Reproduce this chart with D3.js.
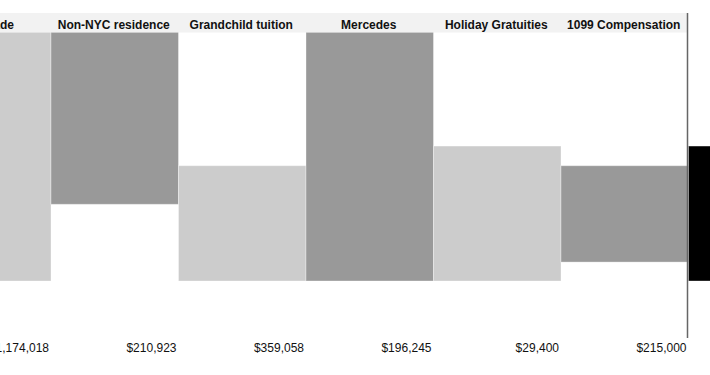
<!DOCTYPE html>
<html>
<head>
<meta charset="utf-8">
<script src="https://cdn.jsdelivr.net/npm/d3@7"></script>
<style>
  html, body { margin: 0; padding: 0; background: #fff; overflow: hidden; }
  svg { display: block; font-family: "Liberation Sans", Arial, Helvetica, sans-serif; }
</style>
</head>
<body>
<svg id="chart"></svg>
<script>
// Columns of the waterfall (first one is scrolled off to the left)
const categories = ["Car Trade", "Non-NYC residence", "Grandchild tuition", "Mercedes", "Holiday Gratuities", "1099 Compensation", "Total"];
const valueLabels = ["$1,174,018", "$210,923", "$359,058", "$196,245", "$29,400", "$215,000", ""];
// bar extent in chart units
const barStart = [0, 308, 0, 0, 0, 76, 0];
const barEnd = [1000, 1000, 463, 1000, 542, 463, 542];
const kinds = ["light", "dark", "light", "dark", "light", "dark", "total"];

const width = 710, height = 375;
const step = 127.5;
const firstX = -76.5;              // first column starts off-screen
const headerTop = 13, headerBottom = 32.5;
const baseY = 281;
const dividerX = 687.5;

const svg = d3.select("#chart").attr("width", width).attr("height", height);

const x = d3.scaleBand()
  .domain(categories)
  .range([firstX, firstX + step * categories.length])
  .paddingInner(0).paddingOuter(0);

const y = d3.scaleLinear()
  .domain([0, 1000])
  .range([baseY, headerBottom - 0.5]);

const fill = d3.scaleOrdinal()
  .domain(["light", "dark", "total"])
  .range(["#cccccc", "#999999", "#000000"]);

const rows = categories.map((c, i) => ({
  cat: c, start: barStart[i], end: barEnd[i], kind: kinds[i], label: valueLabels[i]
}));

// Bars
svg.append("g").selectAll("rect")
  .data(rows)
  .enter().append("rect")
  .attr("x", d => x(d.cat))
  .attr("width", x.bandwidth())
  .attr("y", d => y(d.end))
  .attr("height", d => y(d.start) - y(d.end))
  .attr("fill", d => fill(d.kind))
  .attr("stroke", "#ffffff")
  .attr("stroke-opacity", 0.35)
  .attr("stroke-width", 1);

// Header band (only over the itemised columns)
svg.append("rect")
  .attr("x", 0)
  .attr("y", headerTop)
  .attr("width", dividerX)
  .attr("height", headerBottom - headerTop)
  .attr("fill", "#f2f2f2");

svg.append("g").selectAll("text")
  .data(rows.filter(d => d.kind !== "total"))
  .enter().append("text")
  .attr("x", d => x(d.cat) + x.bandwidth() / 2 - 1)
  .attr("y", 28.5)
  .attr("text-anchor", "middle")
  .style("font-size", "12px")
  .style("font-weight", "bold")
  .attr("fill", "#111")
  .text(d => d.cat);

// Value labels, right aligned under each column
svg.append("g").selectAll("text")
  .data(rows)
  .enter().append("text")
  .attr("x", d => x(d.cat) + x.bandwidth() - 2)
  .attr("y", 352)
  .attr("text-anchor", "end")
  .style("font-size", "12px")
  .attr("fill", "#111")
  .text(d => d.label);

// Divider before the total
svg.append("line")
  .attr("x1", dividerX).attr("x2", dividerX)
  .attr("y1", headerTop).attr("y2", 338)
  .attr("stroke", "#666")
  .attr("stroke-width", 1.5);
</script>
</body>
</html>
